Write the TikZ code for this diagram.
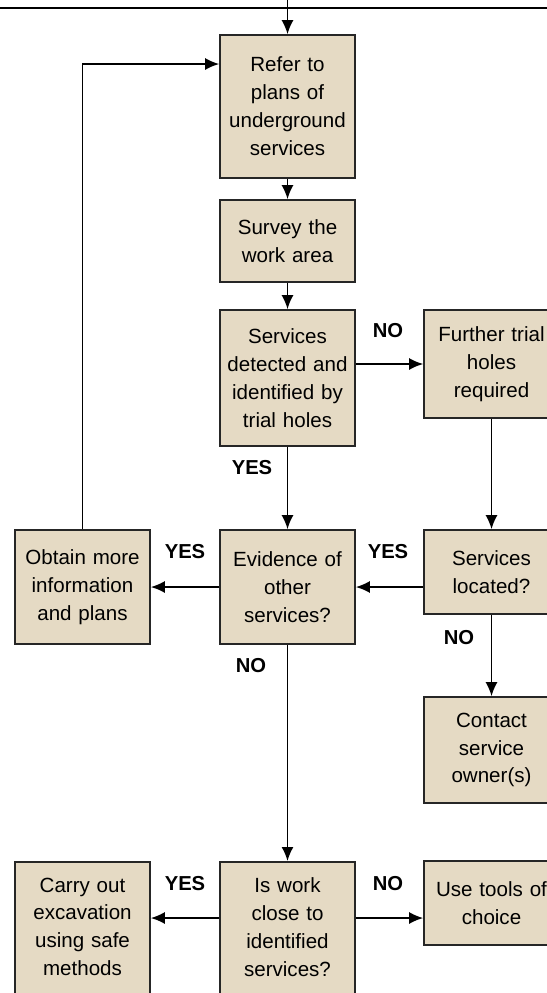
\documentclass[tikz,border=0pt]{standalone}
\usepackage{fontspec}
\setmainfont{Liberation Sans}
\usetikzlibrary{arrows.meta}
\definecolor{boxfill}{RGB}{229,218,196}
\tikzset{
  box/.style={draw=black!85, line width=1pt, fill=boxfill, minimum width=2.7cm,
    text width=2.5cm, align=center, inner sep=2pt, font=\fontsize{11.7}{15.9}\selectfont},
  flow/.style={line width=0.9pt, -{Latex[length=2.8mm,width=2.4mm]}},
  answer/.style={font=\fontsize{11.5}{14}\selectfont\bfseries},
}
\begin{document}
\begin{tikzpicture}[x=0.02cm, y=-0.02cm]
\useasboundingbox (0,0) rectangle (547,993);
\clip (0,0) rectangle (547,993);
\draw[line width=1.5pt] (0,8) -- (547,8);
\coordinate (entry) at (287.5,0);
\coordinate (lowrow) at (0,918);
\node[box, minimum height=2.86cm] (refer)  at (287.5,106.5) {Refer to\\ plans of\\ underground\\ services};
\node[box, minimum height=1.64cm] (survey) at (287.5,241) {Survey the\\ work area};
\node[box, minimum height=2.72cm] (detect) at (287.5,378) {Services\\ detected and\\ identified by\\ trial holes};
\node[box, minimum height=2.16cm] (further) at (491.5,364) {Further trial\\ holes\\ required};
\node[box, minimum height=2.28cm] (obtain) at (82.5,587) {Obtain more\\ information\\ and plans};
\node[box, minimum height=2.28cm] (evidence) at (287.5,587) {Evidence of\\ other\\ services?};
\node[box, minimum height=1.68cm] (located) at (491.5,572) {Services\\ located?};
\node[box, minimum height=2.12cm] (contact) at (491.5,750) {Contact\\ service\\ owner(s)};
\node[box, anchor=north, inner ysep=9pt, text depth=2.6cm] (carry) at (82.5,861) {Carry out\\ excavation\\ using safe\\ methods};
\node[box, anchor=north, inner ysep=9pt, text depth=2.6cm] (iswork) at (287.5,861) {Is work\\ close to\\ identified\\ services?};
\node[box, minimum height=1.68cm] (tools) at (491.5,903) {Use tools of\\ choice};
\draw[flow] (entry) -- (refer);
\draw[flow] (refer) -- (survey);
\draw[flow] (survey) -- (detect);
\draw[flow] (detect.east |- further.west) -- (further.west);
\draw[flow] (detect) -- (evidence);
\draw[flow] (further) -- (located);
\draw[flow] (located.west |- evidence.east) -- (evidence.east);
\draw[flow] (evidence) -- (obtain);
\draw[flow] (obtain.north) |- ([yshift=0.85cm]refer.west);
\draw[flow] (evidence) -- (iswork);
\draw[flow] (located) -- (contact);
\draw[flow] (iswork.west |- lowrow) -- (carry.east |- lowrow);
\draw[flow] (iswork.east |- lowrow) -- (tools.west |- lowrow);
\node[answer] (no1)  at (388,331) {NO};
\node[answer] (yes1) at (252,468) {YES};
\node[answer] (yes2) at (185,552) {YES};
\node[answer] (yes3) at (388,552) {YES};
\node[answer] (no2)  at (459,638) {NO};
\node[answer] (no3)  at (251,666) {NO};
\node[answer] (yes4) at (185,884) {YES};
\node[answer] (no4)  at (388,884) {NO};
\end{tikzpicture}
\end{document}
